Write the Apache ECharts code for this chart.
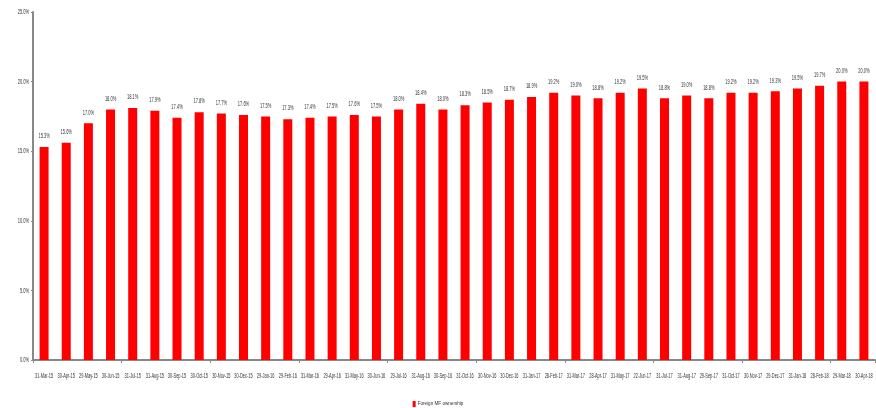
<!DOCTYPE html>
<html><head><meta charset="utf-8">
<script src="https://cdn.jsdelivr.net/npm/echarts@6/dist/echarts.min.js"></script>
<style>html,body{margin:0;padding:0;background:#fff}#c{width:876px;height:408px}</style>
</head><body><div id="c"></div>
<script>
const categories = ["31-Mar-15","30-Apr-15","29-May-15","30-Jun-15","31-Jul-15","31-Aug-15","30-Sep-15","30-Oct-15","30-Nov-15","30-Dec-15","29-Jan-16","29-Feb-16","31-Mar-16","29-Apr-16","31-May-16","30-Jun-16","29-Jul-16","31-Aug-16","30-Sep-16","31-Oct-16","30-Nov-16","30-Dec-16","31-Jan-17","28-Feb-17","31-Mar-17","28-Apr-17","31-May-17","22-Jun-17","31-Jul-17","31-Aug-17","29-Sep-17","31-Oct-17","30-Nov-17","29-Dec-17","31-Jan-18","28-Feb-18","29-Mar-18","30-Apr-18"];
const ownership = [15.3,15.6,17.0,18.0,18.1,17.9,17.4,17.8,17.7,17.6,17.5,17.3,17.4,17.5,17.6,17.5,18.0,18.4,18.0,18.3,18.5,18.7,18.9,19.2,19.0,18.8,19.2,19.5,18.8,19.0,18.8,19.2,19.2,19.3,19.5,19.7,20.0,20.0];
const seriesName = "Foreign MF ownership";
const yTickValues = [0,5,10,15,20,25];
const yTicks = {min:0, max:25, interval:5};

const FONT = "'Liberation Sans', Arial, sans-serif";
const TXT = '#333';
const pct = v => v.toFixed(1) + '%';

const chart = echarts.init(document.getElementById('c'), null, {renderer:'canvas'});
chart.setOption({
  animation:false,
  grid:{left:33, right:1, top:12, bottom:48, containLabel:false},
  legend:{
    data:[seriesName], bottom:1, left:'center', padding:0,
    itemWidth:3, itemHeight:6, itemGap:2,
    textStyle:{fontFamily:FONT, fontSize:4.6, color:TXT, padding:[0,0,0,-3]},
    icon:'rect'
  },
  xAxis:{
    type:'category', data:categories, boundaryGap:true,
    axisLine:{lineStyle:{color:'#888', width:2}},
    axisTick:{show:true, alignWithLabel:false, length:3, lineStyle:{color:'#888'}},
    axisLabel:{show:false}
  },
  yAxis:{
    type:'value', min:yTicks.min, max:yTicks.max, interval:yTicks.interval,
    splitLine:{show:false},
    axisLine:{show:true, lineStyle:{color:'#888', width:2}},
    axisTick:{show:true, length:2, lineStyle:{color:'#888'}},
    axisLabel:{show:false}
  },
  series:[
    {
      name:seriesName, type:'bar', data:ownership, barWidth:9,
      itemStyle:{color:'#ff0000'}
    },
    {
      type:'custom', silent:true, z:5, clip:false,
      data: ownership.map((v,i)=>[i,v]),
      encode:{x:0, y:1},
      renderItem:(params, api)=>{
        const p = api.coord([api.value(0), api.value(1)]);
        return {type:'text', x:p[0], y:p[1]-7, scaleX:0.5,
          style:{text:pct(api.value(1)), fill:TXT, font:'8px '+FONT, align:'center', verticalAlign:'bottom'}};
      }
    },
    {
      type:'custom', silent:true, z:5, clip:false,
      data: categories.map((c,i)=>[i,0]),
      encode:{x:0, y:1},
      renderItem:(params, api)=>{
        const p = api.coord([api.value(0), 0]);
        return {type:'text', x:p[0], y:p[1]+13, scaleX:0.56,
          style:{text:categories[params.dataIndex], fill:TXT, font:'7px '+FONT, align:'center', verticalAlign:'top'}};
      }
    },
    {
      type:'custom', silent:true, z:5, clip:false,
      data: yTickValues.map(v=>[0,v]),
      encode:{x:0, y:1},
      renderItem:(params, api)=>{
        const p = api.coord([0, api.value(1)]);
        const half = api.size([1,0])[0]/2;
        return {type:'text', x:p[0]-half-4, y:p[1], scaleX:0.5,
          style:{text:pct(api.value(1)), fill:TXT, font:'8px '+FONT, align:'right', verticalAlign:'middle'}};
      }
    }
  ]
});
</script></body></html>
